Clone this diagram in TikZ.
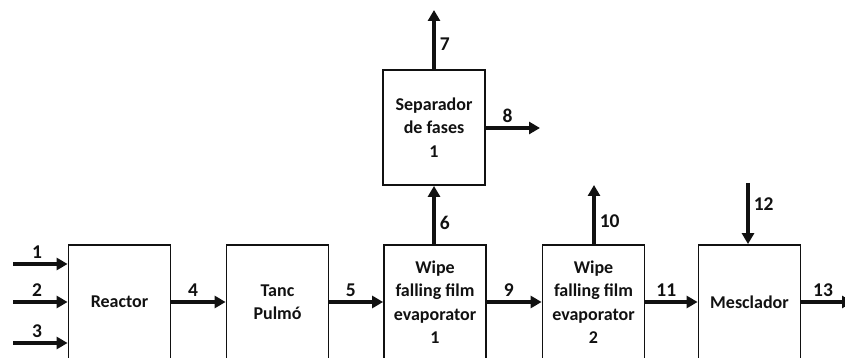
\documentclass[tikz,border=0pt]{standalone}
\usepackage{fontspec}
\setmainfont{Carlito}
\usetikzlibrary{arrows.meta}
\definecolor{flowink}{HTML}{111111}

\begin{document}
\begin{tikzpicture}[x=1pt, y=1pt, >={Triangle[length=11pt,width=12pt]},
                    every node/.style={flowink, font=\fontsize{18}{23.5}\selectfont\bfseries},
                    unit/.style={draw=flowink, line width=1.8pt, minimum width=102pt,
                                 minimum height=114pt, align=center, inner sep=0pt},
                    stream/.style={flowink, line width=3.6pt, ->},
                    num/.style={inner sep=4pt, font=\fontsize{19.5}{23.5}\selectfont\bfseries}]

  \useasboundingbox (0,0) rectangle (845,358);
  \clip (0,0) rectangle (845,358);

  %% equips de la linia principal
  \node[unit] (reactor) at (119.5,56) {Reactor};
  \node[unit] (tanc)    at (277.5,56) {Tanc\\Pulmó};
  \node[unit] (wfe1)    at (435,56)   {Wipe\\falling film\\evaporator\\1};
  \node[unit] (wfe2)    at (593.5,56) {Wipe\\falling film\\evaporator\\2};
  \node[unit] (mesc)    at (749.5,56) {Mesclador};

  %% separador de fases
  \node[unit, minimum height=115pt] (sep) at (434,230.5) {Separador\\de fases\\1};

  %% extrems lliures
  \coordinate (in1)  at (13,94);
  \coordinate (in2)  at (13,56);
  \coordinate (in3)  at (13,15);
  \coordinate (out7) at (434,348);
  \coordinate (out8) at (540,230);
  \coordinate (out10) at (594,173);
  \coordinate (in12) at (748,175);
  \coordinate (out13) at (853,56);

  %% entrades al reactor
  \draw[stream] (in1) -- (in1 -| reactor.west) node[num, above, pos=0.44] (s1) {1};
  \draw[stream] (in2) -- (reactor.west) node[num, above, pos=0.44] (s2) {2};
  \draw[stream] (in3) -- (in3 -| reactor.west) node[num, above, pos=0.44] (s3) {3};

  %% corrents entre equips
  \draw[stream] (reactor.east) -- (tanc.west) node[num, above, pos=0.4] (s4) {4};
  \draw[stream] (tanc.east) -- (wfe1.west) node[num, above, pos=0.4] (s5) {5};
  \draw[stream] (wfe1.east) -- (wfe2.west) node[num, above, pos=0.4] (s9) {9};
  \draw[stream] (wfe2.east) -- (mesc.west) node[num, above, pos=0.4] (s11) {11};
  \draw[stream] (mesc.east) -- (out13) node[num, above, pos=0.42] (s13) {13};

  %% corrents verticals
  \draw[stream] (wfe1.north -| sep.south) -- (sep.south) node[num, right, pos=0.36] (s6) {6};
  \draw[stream] (sep.north) -- (out7) node[num, right, pos=0.42] (s7) {7};
  \draw[stream] (sep.east |- out8) -- (out8) node[num, above, pos=0.4] (s8) {8};
  \draw[stream] (out10 |- wfe2.north) -- (out10) node[num, right, pos=0.39] (s10) {10};
  \draw[stream] (in12) -- (in12 |- mesc.north) node[num, right, pos=0.35] (s12) {12};

\end{tikzpicture}
\end{document}
